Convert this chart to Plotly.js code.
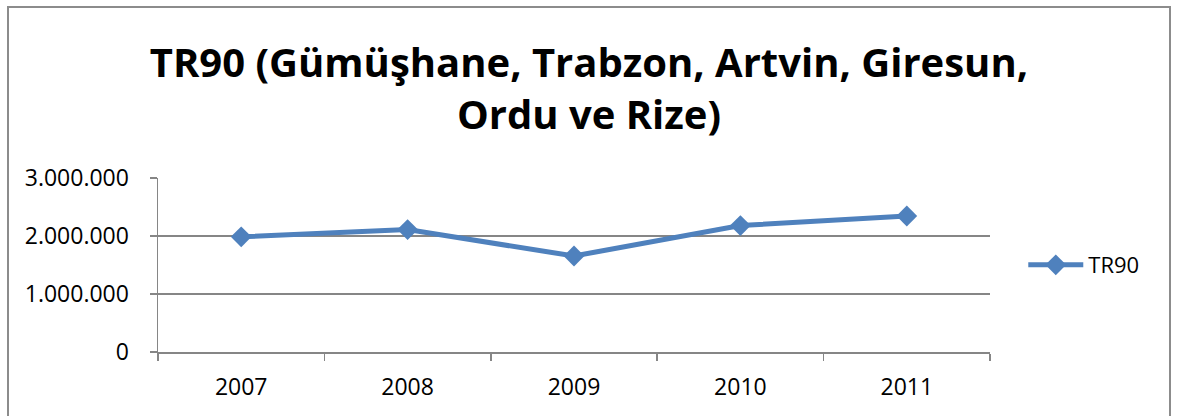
<!DOCTYPE html>
<html>
<head>
<meta charset="utf-8">
<script src="https://cdn.plot.ly/plotly-3.0.1.min.js"></script>
<style>
html,body{margin:0;padding:0;background:#fff;}
#wrap{position:relative;width:1181px;height:416px;overflow:hidden;}
#chart{position:absolute;left:0;top:0;width:1181px;height:416px;}
#frame{position:absolute;left:7px;top:6px;width:1160px;height:420px;border:2px solid #8c8c8c;pointer-events:none;}
</style>
</head>
<body>
<div id="wrap"><div id="chart"></div><div id="frame"></div></div>
<script>
const years = ['2007', '2008', '2009', '2010', '2011'];
const tr90 = [1985000, 2110000, 1655000, 2180000, 2345000];
const yTickVals = [0, 1000000, 2000000, 3000000];
const yTickText = ['0', '1.000.000', '2.000.000', '3.000.000'];
const seriesName = 'TR90';
const titleText = 'TR90 (Gümüşhane, Trabzon, Artvin, Giresun,<br>Ordu ve Rize)';

const font = '"Open Sans", "Noto Sans", sans-serif';

Plotly.newPlot('chart', [{
  x: years,
  y: tr90,
  name: seriesName,
  type: 'scatter',
  mode: 'lines+markers',
  line: {color: '#4F81BD', width: 5},
  marker: {symbol: 'diamond', size: 16, color: '#4F81BD'}
}], {
  width: 1181,
  height: 416,
  margin: {l: 158, r: 191, t: 178, b: 64},
  paper_bgcolor: '#ffffff',
  plot_bgcolor: '#ffffff',
  title: {
    text: titleText,
    font: {family: font, size: 40, color: '#000000', weight: 'bold'},
    x: 0.4987, xanchor: 'center',
    y: 0.814, yanchor: 'middle'
  },
  showlegend: true,
  legend: {
    x: 1.04, xanchor: 'left', y: 0.5, yanchor: 'middle',
    font: {family: font, size: 22, color: '#000000'},
    itemwidth: 55
  },
  xaxis: {
    type: 'category',
    range: [-0.5, 4.5],
    showgrid: false,
    showline: true,
    linecolor: '#868686',
    linewidth: 1.5,
    ticks: 'outside',
    tickson: 'boundaries',
    ticklen: 7,
    tickwidth: 1.5,
    tickcolor: '#868686',
    tickfont: {family: font, size: 23, color: '#000000'},
    ticklabelstandoff: 14,
    zeroline: false,
    fixedrange: true
  },
  yaxis: {
    range: [0, 3000000],
    tickvals: yTickVals,
    ticktext: yTickText,
    showgrid: true,
    gridcolor: '#868686',
    gridwidth: 1.5,
    showline: true,
    linecolor: '#868686',
    linewidth: 1.5,
    ticks: 'outside',
    ticklen: 7,
    tickwidth: 1.5,
    tickcolor: '#868686',
    tickfont: {family: font, size: 23, color: '#000000'},
    ticklabelstandoff: 16,
    zeroline: false,
    fixedrange: true
  }
}, {displayModeBar: false, staticPlot: true});
</script>
</body>
</html>
